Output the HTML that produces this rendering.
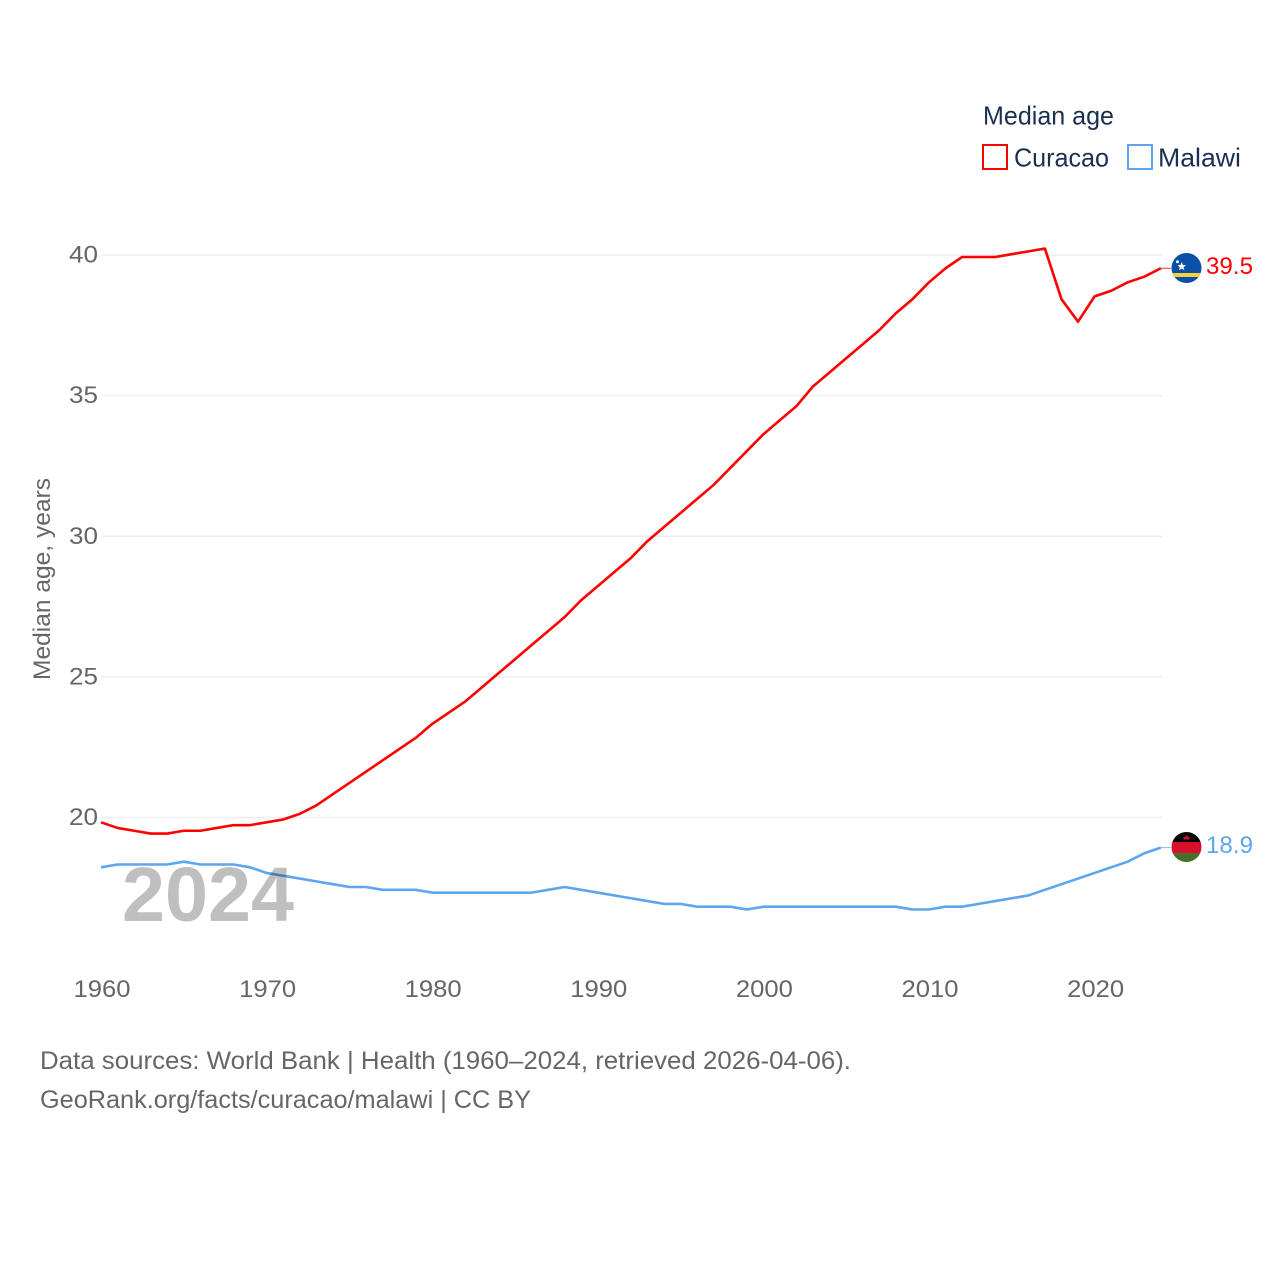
<!DOCTYPE html>
<html>
<head>
<meta charset="utf-8">
<title>Median age: Curacao and Malawi</title>
<style>
html,body{margin:0;padding:0;background:#fff;}
svg{display:block;font-family:"Liberation Sans",sans-serif;}
.tick{fill:#666;font-size:24.5px;}
.foot{fill:#666;font-size:25px;}
.leg{fill:#1a3050;font-size:26px;}
</style>
</head>
<body>
<svg id="chart" xmlns="http://www.w3.org/2000/svg" width="1280" height="1280" viewBox="0 0 1280 1280">
  <defs>
    <clipPath id="clip-cw"><circle cx="1186.5" cy="268" r="15"/></clipPath>
    <clipPath id="clip-mw"><circle cx="1186.5" cy="847" r="15"/></clipPath>
  </defs>
  <rect width="1280" height="1280" fill="#fff"/>
  <g id="grid"></g>
  <g id="yticks"></g>
  <g id="xticks"></g>
  <text transform="translate(50,680) rotate(-90)" class="tick" font-size="24.5" textLength="202" lengthAdjust="spacingAndGlyphs">Median age, years</text>
  <g id="series"></g>
  <text x="122" y="921" font-size="77" font-weight="bold" fill="#bfbfbf" textLength="172" lengthAdjust="spacingAndGlyphs" style="mix-blend-mode:multiply">2024</text>

  <g>
    <text x="983" y="124.500" class="leg" textLength="131" lengthAdjust="spacingAndGlyphs">Median age</text>
    <rect x="983" y="145" width="24" height="24" fill="none" stroke="#ff0000" stroke-width="2"/>
    <text x="1014" y="166.500" class="leg" textLength="95" lengthAdjust="spacingAndGlyphs">Curacao</text>
    <rect x="1128" y="145" width="24" height="24" fill="none" stroke="#5da5ee" stroke-width="2"/>
    <text x="1158" y="166.500" class="leg" textLength="83" lengthAdjust="spacingAndGlyphs">Malawi</text>
  </g>

  <g clip-path="url(#clip-cw)">
    <rect x="1171" y="253" width="31" height="31" fill="#0a4fa8"/>
    <rect x="1171" y="273" width="31" height="4" fill="#f5d23c"/>
    <polygon points="1181.700,262 1182.900,265 1186,265.200 1183.600,267.200 1184.400,270.200 1181.700,268.500 1179,270.200 1179.800,267.200 1177.400,265.200 1180.500,265" fill="#ffffff"/>
    <circle cx="1177.500" cy="261.800" r="1.500" fill="#ffffff"/>
  </g>
  <g clip-path="url(#clip-mw)">
    <rect x="1171" y="832" width="31" height="10" fill="#050505"/>
    <rect x="1171" y="842" width="31" height="11" fill="#d8102c"/>
    <rect x="1171" y="853" width="31" height="11" fill="#4a6f2c"/>
    <rect x="1183.500" y="837" width="6" height="2.500" fill="#c8102e"/>
    <rect x="1185.500" y="835.500" width="2" height="2" fill="#c8102e"/>
  </g>
  <text x="1206" y="274" font-size="24.500" fill="#ff0000" textLength="47" lengthAdjust="spacingAndGlyphs">39.5</text>
  <text x="1206" y="853" font-size="24.500" fill="#5da5ee" textLength="47" lengthAdjust="spacingAndGlyphs">18.9</text>

  <text x="40" y="1069" class="foot" textLength="811" lengthAdjust="spacingAndGlyphs">Data sources: World Bank | Health (1960–2024, retrieved 2026-04-06).</text>
  <text x="40" y="1108" class="foot" textLength="491" lengthAdjust="spacingAndGlyphs">GeoRank.org/facts/curacao/malawi | CC BY</text>
</svg>
<script>
const startYear = 1960;
const xTickLabels = [1960, 1970, 1980, 1990, 2000, 2010, 2020];
const yTickLabels = [20, 25, 30, 35, 40];
const curacaoValues = [19.8,19.6,19.5,19.4,19.4,19.5,19.5,19.6,19.7,19.7,19.8,19.9,20.1,20.4,20.8,21.2,21.6,22.0,22.4,22.8,23.3,23.7,24.1,24.6,25.1,25.6,26.1,26.6,27.1,27.7,28.2,28.7,29.2,29.8,30.3,30.8,31.3,31.8,32.4,33.0,33.6,34.1,34.6,35.3,35.8,36.3,36.8,37.3,37.9,38.4,39.0,39.5,39.9,39.9,39.9,40.0,40.1,40.2,38.4,37.6,38.5,38.7,39.0,39.2,39.5];
const malawiValues = [18.2,18.3,18.3,18.3,18.3,18.4,18.3,18.3,18.3,18.2,18.0,17.9,17.8,17.7,17.6,17.5,17.5,17.4,17.4,17.4,17.3,17.3,17.3,17.3,17.3,17.3,17.3,17.4,17.5,17.4,17.3,17.2,17.1,17.0,16.9,16.9,16.8,16.8,16.8,16.7,16.8,16.8,16.8,16.8,16.8,16.8,16.8,16.8,16.8,16.7,16.7,16.8,16.8,16.9,17.0,17.1,17.2,17.4,17.6,17.8,18.0,18.2,18.4,18.7,18.9];

const NS = 'http://www.w3.org/2000/svg';
function xScale(year) { return 101 + (year - 1960) * 16.56; }
function yScale(value) { return 817.5 - (value - 20) * (817.5 - 255) / 20; }
function make(tag, attrs) {
  const el = document.createElementNS(NS, tag);
  Object.keys(attrs).forEach(function (k) { el.setAttribute(k, attrs[k]); });
  return el;
}
const gridGroup = document.getElementById('grid');
const yGroup = document.getElementById('yticks');
const xGroup = document.getElementById('xticks');
const seriesGroup = document.getElementById('series');

yTickLabels.forEach(function (v) {
  const line = make('line', { x1: 102, x2: 1162, y1: yScale(v), y2: yScale(v), stroke: '#eeeeee', 'stroke-width': 1.5 });
  
  
  gridGroup.appendChild(line);
  const t = make('text', { x: 98, y: yScale(v) + 7.5, 'text-anchor': 'end', class: 'tick', textLength: 29, lengthAdjust: 'spacingAndGlyphs' });
  
  
  t.textContent = v;
  yGroup.appendChild(t);
});
xTickLabels.forEach(function (y) {
  const t = make('text', { x: xScale(y) + 1, y: 997, 'text-anchor': 'middle', class: 'tick', textLength: 57, lengthAdjust: 'spacingAndGlyphs' });
  
  
  t.textContent = y;
  xGroup.appendChild(t);
});
function drawSeries(values, color, name) {
  const pts = values.map(function (v, i) { return xScale(startYear + i).toFixed(2) + ',' + (yScale(v) - 0.8).toFixed(2); });
  const line = make('polyline', { points: pts.join(' '), fill: 'none', stroke: color, 'stroke-width': 2.6, 'stroke-linejoin': 'round' });
  
  
  seriesGroup.appendChild(line);
  const lastY = yScale(values[values.length - 1]) - 0.8;
  const lastX = xScale(startYear + values.length - 1);
  const conn = make('line', { x1: lastX, x2: 1171, y1: lastY, y2: lastY, stroke: color, 'stroke-width': 1, opacity: 0.8 });
  
  
  seriesGroup.appendChild(conn);
}
drawSeries(curacaoValues, '#ff0000', 'line-curacao');
drawSeries(malawiValues, '#5da5ee', 'line-malawi');
</script>
</body>
</html>
